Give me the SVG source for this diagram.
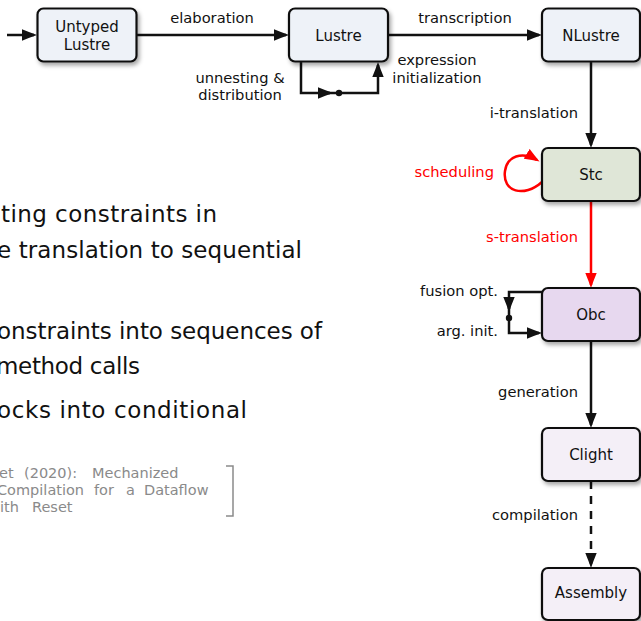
<svg xmlns="http://www.w3.org/2000/svg" width="641" height="621" viewBox="0 0 641 621">
  <style>
    .box { stroke: #111; stroke-width: 2.2; filter: url(#shadow); }
    .blue { fill: #eef2f8; }
    .green { fill: #dfe6d7; }
    .purple { fill: #e7d8ef; }
    .lilac { fill: #f4eff7; }
    .node-text { font-family: "DejaVu Sans", sans-serif; font-size: 15px; fill: #111; text-anchor: middle; }
    .label { font-family: "DejaVu Sans", sans-serif; font-size: 14.7px; fill: #111; }
    .red-label { fill: #f00; }
    .edge { fill: none; stroke: #111; stroke-width: 2.5; }
    .edge-red { fill: none; stroke: #f00; stroke-width: 2.5; }
    .dashed { stroke-dasharray: 8 7; }
    .body { font-family: "DejaVu Sans", sans-serif; font-size: 23px; fill: #111; }
    .cite { font-family: "DejaVu Sans", sans-serif; font-size: 14.5px; fill: #8a8a8a; }
  </style>
  <defs>
    <filter id="shadow" x="-10%" y="-10%" width="130%" height="140%">
      <feDropShadow dx="2" dy="3" stdDeviation="2" flood-color="#000" flood-opacity="0.35"/>
    </filter>
    <marker id="arrow" markerUnits="userSpaceOnUse" viewBox="0 0 15 12" markerWidth="15" markerHeight="12" refX="12" refY="6" orient="auto">
      <path d="M15,6 Q7.5,3.4 0,0.3 L0,11.7 Q7.5,8.6 15,6 Z" fill="#111"/>
    </marker>
    <marker id="arrow-red" markerUnits="userSpaceOnUse" viewBox="0 0 15 12" markerWidth="15" markerHeight="12" refX="12" refY="6" orient="auto">
      <path d="M15,6 Q7.5,3.4 0,0.3 L0,11.7 Q7.5,8.6 15,6 Z" fill="#f00"/>
    </marker>
  </defs>

  <!-- slide body text (clipped at the left edge) -->
  <g id="body-text">
    <text class="body" x="1" y="222" textLength="216" lengthAdjust="spacing">ting constraints in</text>
    <text class="body" x="-3" y="258" textLength="305" lengthAdjust="spacing">e translation to sequential</text>
    <text class="body" x="-3" y="339" textLength="325" lengthAdjust="spacing">onstraints into sequences of</text>
    <text class="body" x="-4" y="374" textLength="144" lengthAdjust="spacing">method calls</text>
    <text class="body" x="-3" y="418" textLength="250" lengthAdjust="spacing">ocks into conditional</text>
  </g>

  <!-- citation -->
  <g id="citation">
    <text class="cite" y="478"><tspan x="-1">et</tspan><tspan x="24">(2020):</tspan><tspan x="92">Mechanized</tspan></text>
    <text class="cite" y="495"><tspan x="-3">Compilation</tspan><tspan x="94">for</tspan><tspan x="126">a</tspan><tspan x="144">Dataflow</tspan></text>
    <text class="cite" y="512"><tspan x="0">ith</tspan><tspan x="32">Reset</tspan></text>
    <path d="M226 466 H233 V516 H226" fill="none" stroke="#8a8a8a" stroke-width="1.5"/>
  </g>

  <!-- connectors -->
  <g id="connectors">
    <path class="edge" d="M7 35 H34" marker-end="url(#arrow)"/>
    <path class="edge" d="M137 35 H286" marker-end="url(#arrow)"/>
    <path class="edge" d="M388 35 H539" marker-end="url(#arrow)"/>
    <!-- Lustre self-pass loop -->
    <path class="edge" d="M301 62 V93 H378 V65" marker-end="url(#arrow)"/>
    <path class="edge" d="M322 93 H330" marker-end="url(#arrow)"/>
    <circle cx="339" cy="93" r="3.2" fill="#111"/>
    <path class="edge" d="M591 62 V145" marker-end="url(#arrow)"/>
    <!-- scheduling self-loop -->
    <path class="edge-red" d="M542 182 C 524 198, 502 192, 505 171 C 507 156, 522 151, 537 160" marker-end="url(#arrow-red)"/>
    <path class="edge-red" d="M591 201 V285" marker-end="url(#arrow-red)"/>
    <!-- Obc self-pass loop -->
    <path class="edge" d="M542 292 H509 V333 H539" marker-end="url(#arrow)"/>
    <path class="edge" d="M509 298 V309" marker-end="url(#arrow)"/>
    <circle cx="509" cy="318" r="3.2" fill="#111"/>
    <path class="edge" d="M591 341 V425" marker-end="url(#arrow)"/>
    <path class="edge dashed" d="M591 481 V565" marker-end="url(#arrow)"/>
  </g>

  <!-- connector labels -->
  <g id="edge-labels">
    <text class="label" x="212" y="23" text-anchor="middle">elaboration</text>
    <text class="label" x="465" y="23" text-anchor="middle">transcription</text>
    <text class="label" x="240" y="83" text-anchor="middle">unnesting &amp;</text>
    <text class="label" x="240" y="100" text-anchor="middle">distribution</text>
    <text class="label" x="437" y="65" text-anchor="middle">expression</text>
    <text class="label" x="437" y="83" text-anchor="middle">initialization</text>
    <text class="label" x="578" y="118" text-anchor="end">i-translation</text>
    <text class="label red-label" x="494" y="177" text-anchor="end">scheduling</text>
    <text class="label red-label" x="578" y="242" text-anchor="end">s-translation</text>
    <text class="label" x="498" y="296" text-anchor="end">fusion opt.</text>
    <text class="label" x="498" y="336" text-anchor="end">arg. init.</text>
    <text class="label" x="578" y="397" text-anchor="end">generation</text>
    <text class="label" x="578" y="520" text-anchor="end">compilation</text>
  </g>

  <!-- nodes -->
  <g id="untyped-lustre">
    <rect class="box blue" x="37.5" y="8.5" width="99" height="53" rx="6"/>
    <text class="node-text" x="87" y="32">Untyped</text>
    <text class="node-text" x="87" y="49.5">Lustre</text>
  </g>
  <g id="lustre">
    <rect class="box blue" x="289" y="8.5" width="99" height="53" rx="6"/>
    <text class="node-text" x="338.5" y="40.5">Lustre</text>
  </g>
  <g id="nlustre">
    <rect class="box blue" x="542" y="8.5" width="98" height="53" rx="6"/>
    <text class="node-text" x="591" y="40.5">NLustre</text>
  </g>
  <g id="stc">
    <rect class="box green" x="542" y="148" width="98" height="53" rx="6"/>
    <text class="node-text" x="591" y="180">Stc</text>
  </g>
  <g id="obc">
    <rect class="box purple" x="542" y="288" width="98" height="53" rx="6"/>
    <text class="node-text" x="591" y="320">Obc</text>
  </g>
  <g id="clight">
    <rect class="box lilac" x="542" y="428" width="98" height="53" rx="6"/>
    <text class="node-text" x="591" y="460">Clight</text>
  </g>
  <g id="assembly">
    <rect class="box lilac" x="542" y="568" width="98" height="52" rx="6"/>
    <text class="node-text" x="591" y="598">Assembly</text>
  </g>
</svg>
